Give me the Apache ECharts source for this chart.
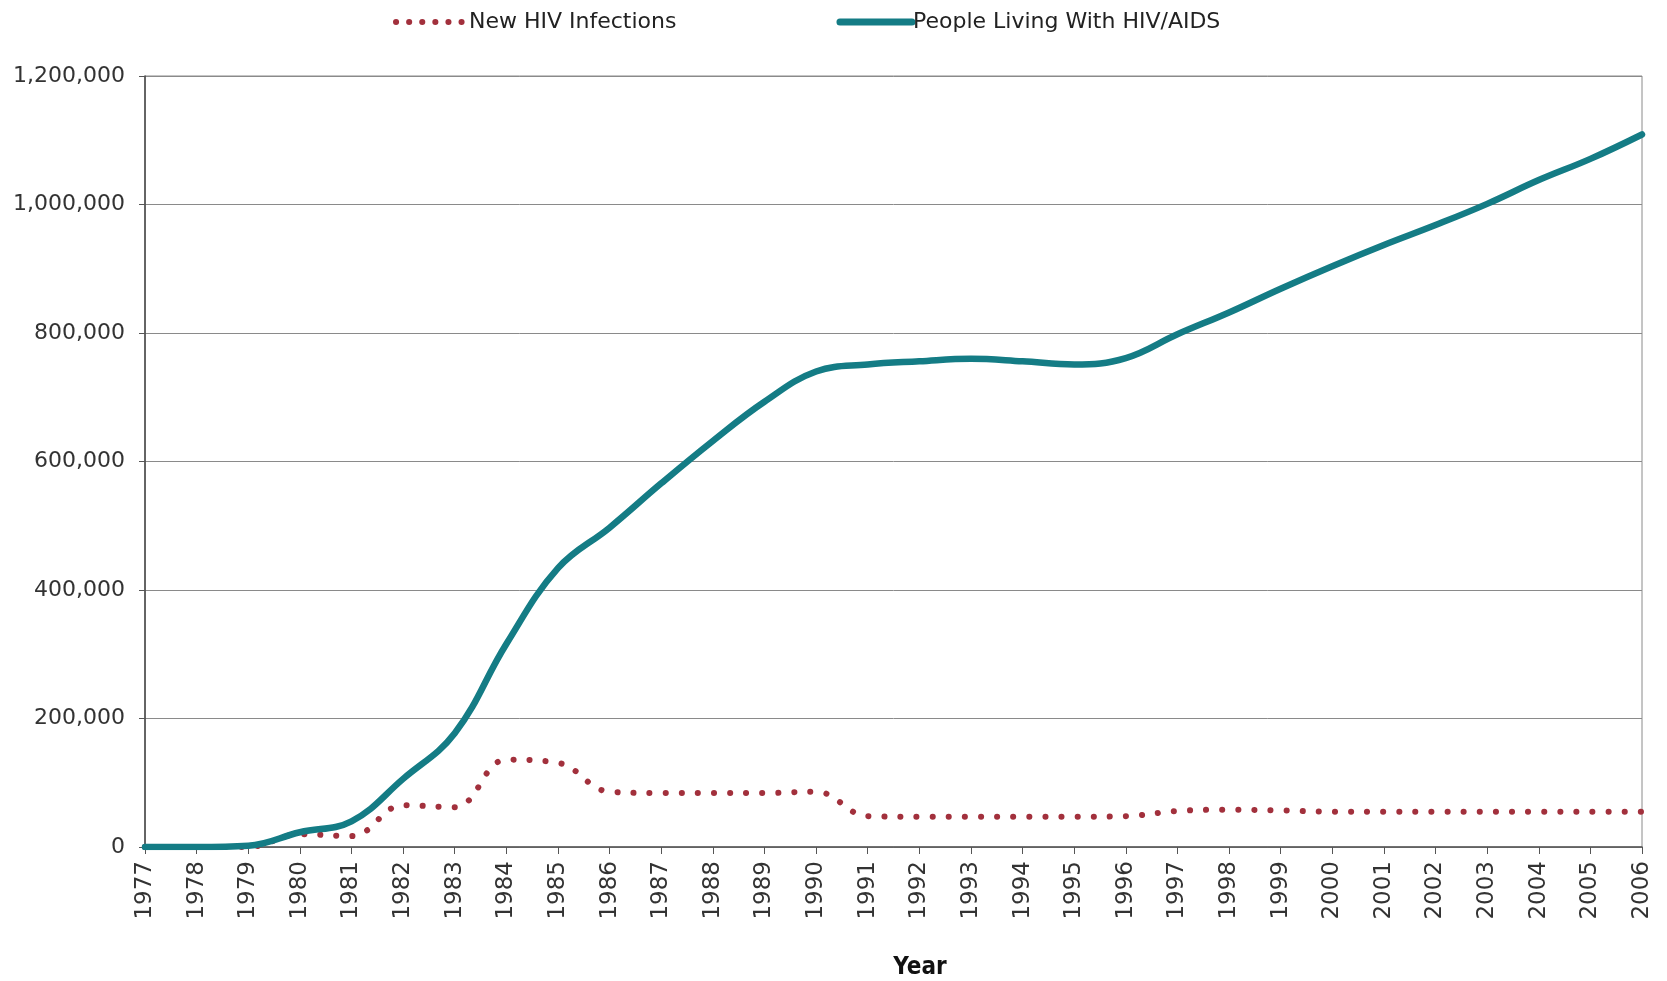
<!DOCTYPE html>
<html>
<head>
<meta charset="utf-8">
<script src="https://cdn.jsdelivr.net/npm/echarts@6/dist/echarts.min.js"></script>
<style>
  html, body { margin: 0; padding: 0; background: #fff; }
  #chart { width: 1667px; height: 981px; }
</style>
</head>
<body>
<div id="chart"></div>
<script>
// years on the x axis
var years = [];
for (var y = 1977; y <= 2006; y++) years.push(String(y));

// people living with HIV/AIDS
var livingWithHiv = [0, 0, 2000, 23000, 40000, 106000, 177000, 316000, 434000, 497000,
  566000, 632000, 693000, 740000, 751000, 756000, 760000, 756000, 751000, 761000,
  798000, 832000, 869000, 904000, 937000, 968000, 1001000, 1038000, 1071000, 1109000];

// new infections per year
var newInfections = [0, 0, 0, 20000, 17000, 65000, 62000, 136000, 131000, 86000,
  84000, 84000, 84000, 86000, 48000, 47000, 47000, 47000, 47000, 48000,
  56000, 58000, 57000, 55000, 55000, 55000, 55000, 55000, 55000, 55000];

var yTicks = [0, 200000, 400000, 600000, 800000, 1000000, 1200000];

var RED = "#a2303c";
var TEAL = "#147c85";
var FONT = "DejaVu Sans";

var chart = echarts.init(document.getElementById("chart"));

chart.setOption({
  animation: false,
  backgroundColor: "#fff",
  textStyle: { fontFamily: FONT },
  legend: {
    top: 6,
    left: 388,
    itemGap: 160,
    itemWidth: 72,
    itemHeight: 14,
    textStyle: { fontSize: 22, color: "#222", fontFamily: FONT, padding: [0, 0, 0, -4] },
    data: [
      {
        name: "New HIV Infections",
        itemStyle: { opacity: 0 },
        lineStyle: { color: RED, width: 6, type: [0.1, 13], cap: "round" }
      },
      {
        name: "People Living With HIV/AIDS",
        itemStyle: { opacity: 0 },
        lineStyle: { color: TEAL, width: 7, cap: "round" }
      }
    ]
  },
  grid: {
    left: 145,
    right: 25,
    top: 76,
    bottom: 134,
    show: true,
    borderColor: "#8a8a8a",
    borderWidth: 1
  },
  xAxis: {
    type: "category",
    data: years,
    boundaryGap: false,
    axisLine: { lineStyle: { color: "#555", width: 1.5 } },
    axisTick: { show: true, length: 7, interval: 0, lineStyle: { color: "#555" } },
    axisLabel: {
      interval: 0,
      rotate: 90,
      margin: 14,
      fontSize: 23,
      color: "#333",
      fontFamily: FONT
    },
    splitLine: { show: false }
  },
  yAxis: {
    type: "value",
    min: 0,
    max: yTicks[yTicks.length - 1],
    interval: 200000,
    axisLine: { show: true, lineStyle: { color: "#444", width: 1.5 } },
    axisTick: { show: true, length: 6, lineStyle: { color: "#555" } },
    axisLabel: {
      margin: 20,
      fontSize: 22,
      color: "#333",
      fontFamily: FONT,
      formatter: function (v) { return v.toLocaleString("en-US"); }
    },
    splitLine: { lineStyle: { color: "#8a8a8a", width: 1 } }
  },
  graphic: [{
    type: "text",
    x: 920,
    y: 968,
    style: {
      text: "Year",
      font: "bold 24px 'DejaVu Sans Condensed'",
      fill: "#111",
      align: "center",
      verticalAlign: "middle"
    }
  }],
  series: [
    {
      name: "New HIV Infections",
      type: "line",
      data: newInfections,
      smooth: 0.4,
      symbol: "none",
      color: RED,
      lineStyle: { color: RED, width: 6, type: [0.1, 16], cap: "round" },
      z: 3
    },
    {
      name: "People Living With HIV/AIDS",
      type: "line",
      data: livingWithHiv,
      smooth: 0.4,
      symbol: "none",
      color: TEAL,
      lineStyle: { color: TEAL, width: 6.5, cap: "round" },
      z: 4
    }
  ]
});
</script>
</body>
</html>
